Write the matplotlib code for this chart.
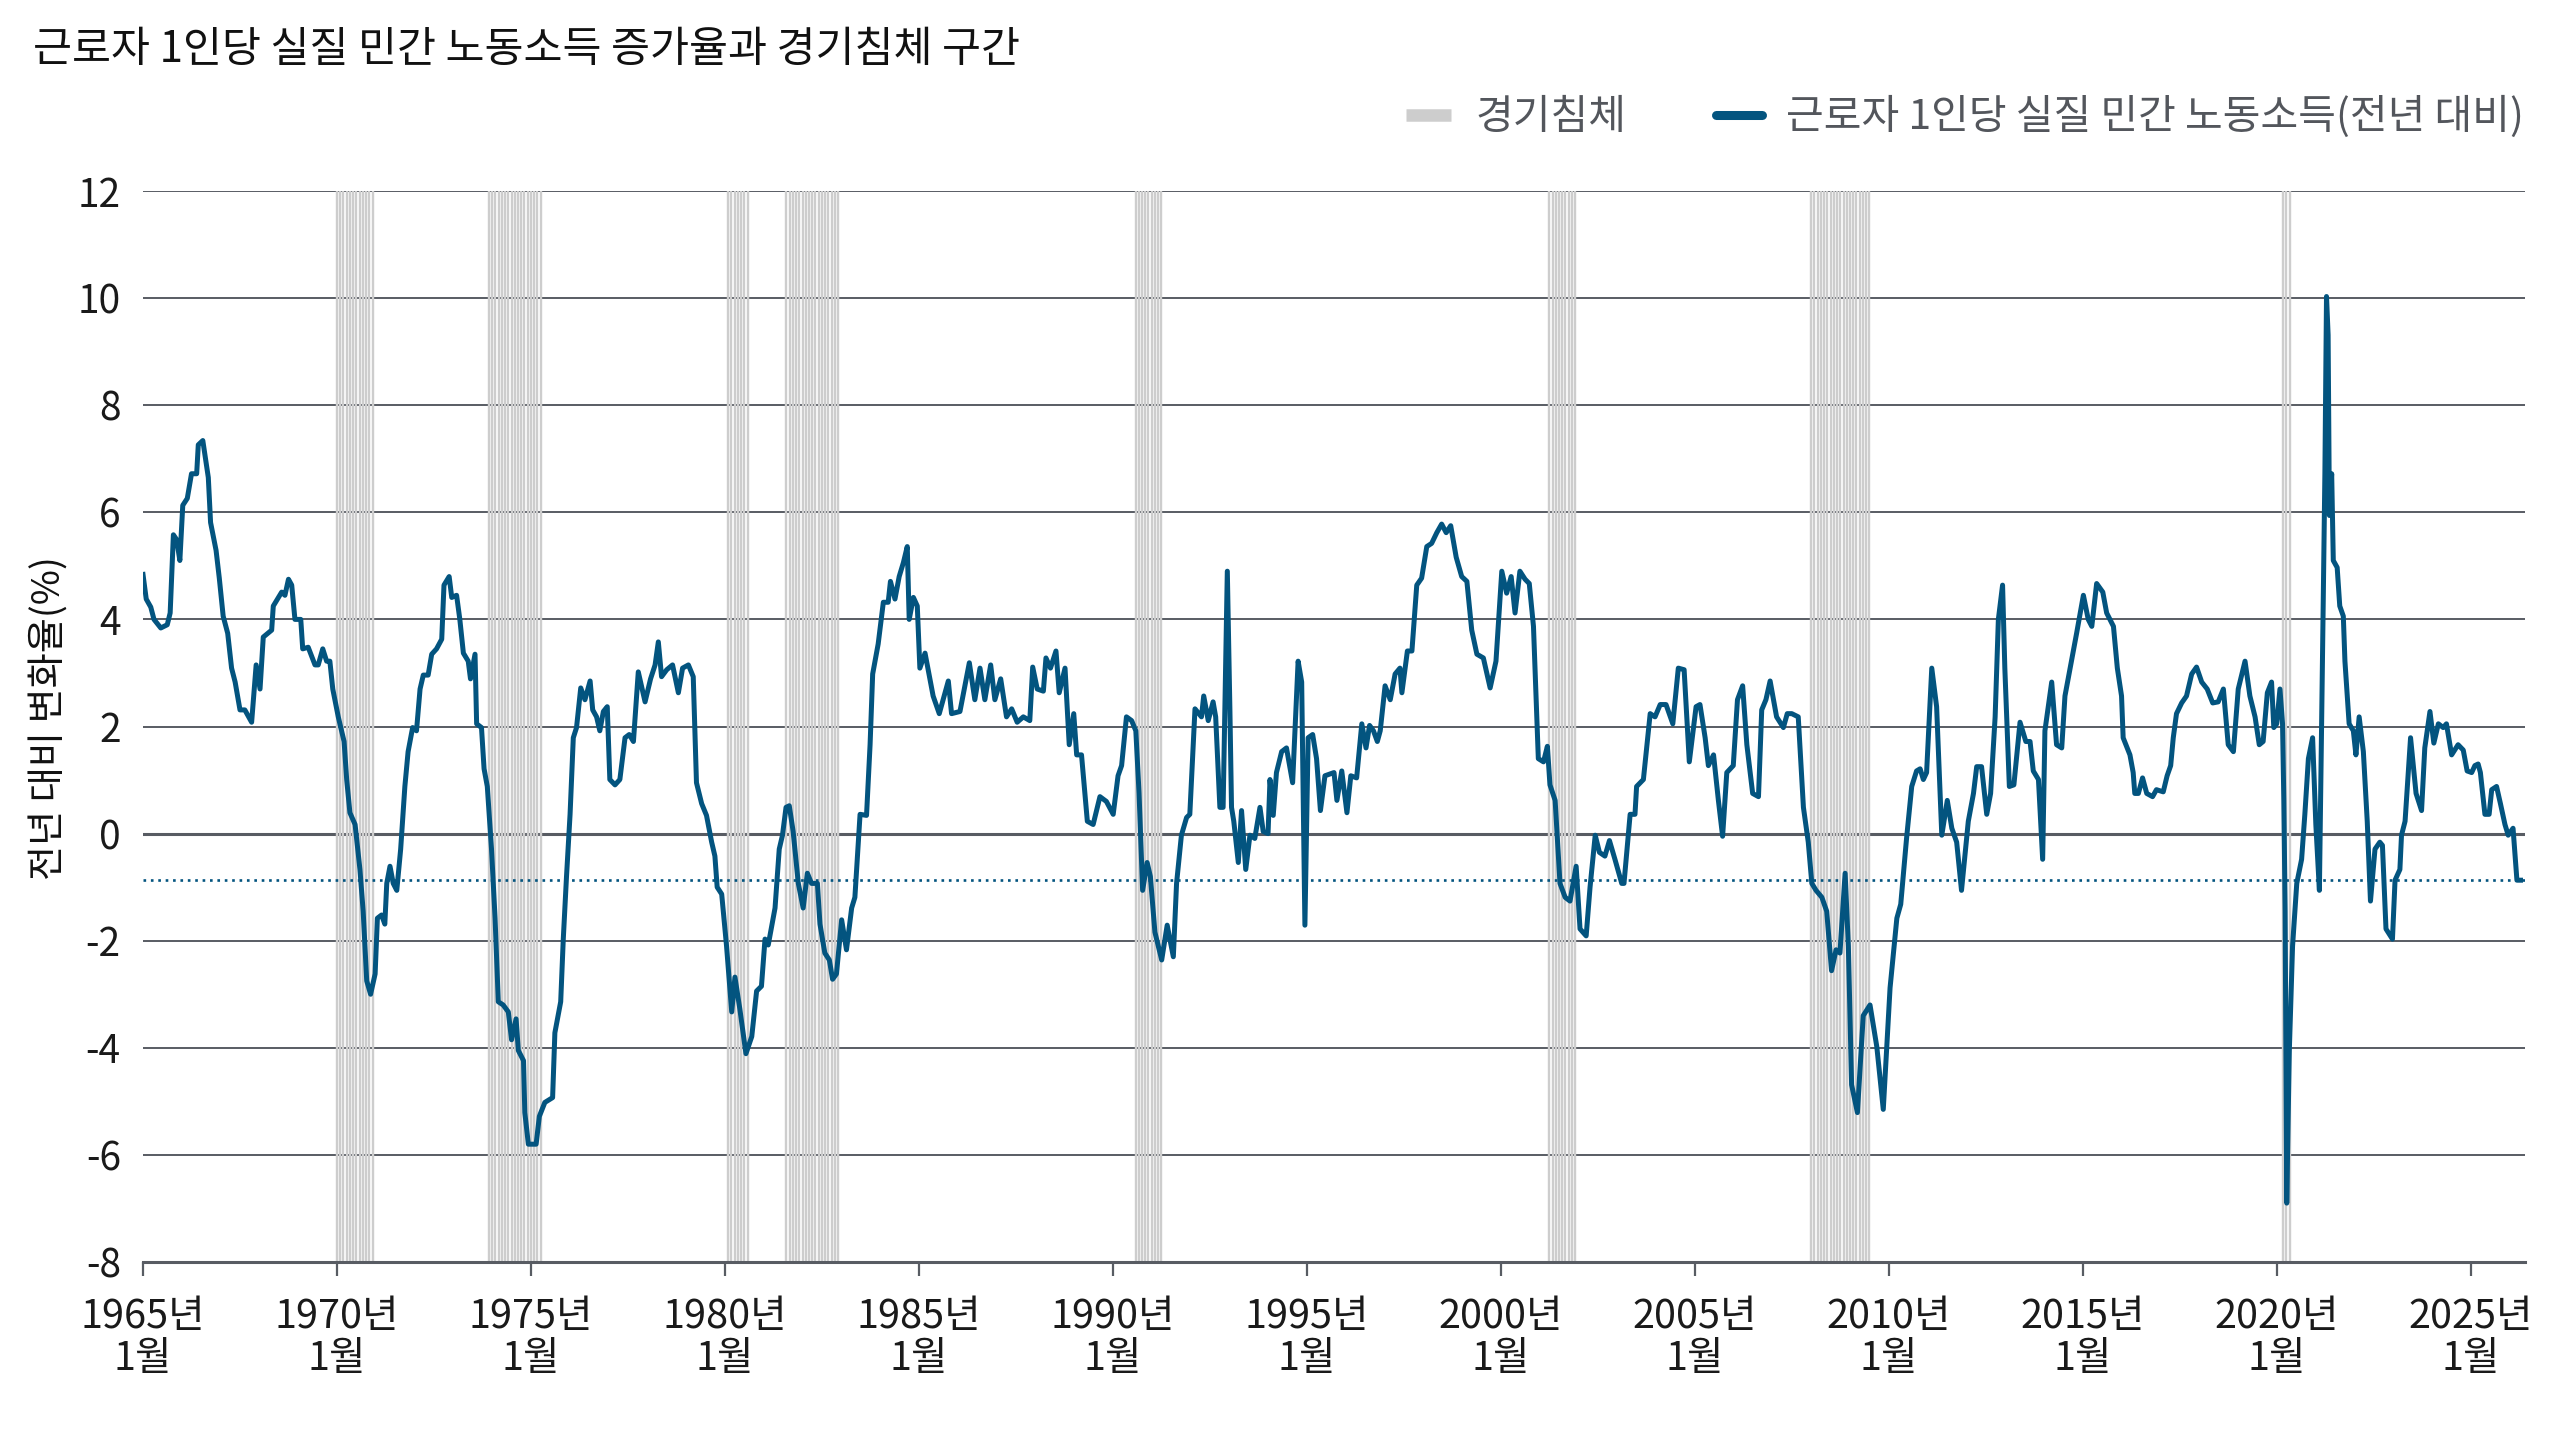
# 근로자 1인당 실질 민간 노동소득 증가율 (전년 대비) 과 경기침체 구간
import numpy as np
import matplotlib
matplotlib.use("Agg")
import matplotlib.pyplot as plt
from matplotlib.lines import Line2D

plt.rcParams['font.family'] = ['Noto Sans CJK KR', 'DejaVu Sans']

# (months since 1965-01, % yoy), one list per era
pts_1965_1974 = [
    (0, 4.84), (1, 4.38), (2.4, 4.23), (3.4, 4.0), (5.5, 3.84), (7.5, 3.9), (8.4, 4.12),
    (9.4, 5.58), (10.4, 5.49), (11.4, 5.1), (12.3, 6.13), (13.7, 6.26), (15, 6.72),
    (16.6, 6.72), (17.1, 7.26), (18.5, 7.34), (20.2, 6.65), (20.9, 5.81), (22.6, 5.29),
    (23.6, 4.77), (24.8, 4.06), (26.2, 3.74), (27.4, 3.09), (28.5, 2.83), (30, 2.31),
    (31.5, 2.31), (33.6, 2.08), (35, 3.15), (36.2, 2.7), (37.2, 3.67), (39.8, 3.8),
    (40.3, 4.25), (41.9, 4.41), (42.9, 4.51), (43.9, 4.45), (45, 4.75), (46, 4.64),
    (47, 4.0), (48.8, 4.0), (49.4, 3.45), (51.1, 3.48), (53.2, 3.15), (54.2, 3.15),
    (55.6, 3.45), (56.8, 3.22), (57.8, 3.22), (58.7, 2.7), (60.4, 2.18), (62.2, 1.72),
    (63, 1.01), (64, 0.39), (65.6, 0.17), (67.1, -0.67), (68.1, -1.45), (69.2, -2.75),
    (70.4, -3.0), (71.8, -2.62), (72.5, -1.58), (73.8, -1.52), (74.8, -1.69), (75.4, -0.93),
    (76.4, -0.61), (77.4, -0.93), (78.5, -1.06), (79.7, -0.29), (81, 0.88), (82, 1.53),
    (83.4, 1.98), (84.6, 1.92), (85.7, 2.7), (86.7, 2.96), (88.2, 2.96), (89.3, 3.35),
    (90.8, 3.45), (92.4, 3.63), (93.1, 4.64), (94.7, 4.8), (95.5, 4.41), (97, 4.45),
    (98, 4.0), (99.1, 3.37), (100.6, 3.22), (101.3, 2.89), (102.7, 3.35), (103.2, 2.05),
    (104.7, 1.98), (105.5, 1.21), (106.5, 0.88), (107.8, -0.29), (108.9, -1.58),
    (109.9, -3.14), (111.4, -3.2), (113, -3.33), (114, -3.85), (115.4, -3.46),
    (116.1, -4.05), (117.7, -4.24), (118.1, -5.21), (119.2, -5.8),
]

pts_1975_1984 = [
    (121.6, -5.8), (122.6, -5.28), (124.3, -5.02), (126.7, -4.93), (127.4, -3.72),
    (129.2, -3.14), (130, -1.97), (131, -0.8), (132.1, 0.36), (133.1, 1.79), (134.1, 1.98),
    (135.4, 2.72), (136.7, 2.5), (138.3, 2.85), (139.1, 2.31), (140.3, 2.18), (141.3, 1.92),
    (142.4, 2.28), (143.6, 2.37), (144.4, 1.01), (146, 0.91), (147.5, 1.01), (149.1, 1.79),
    (150.4, 1.85), (151.7, 1.72), (153.2, 3.02), (155.3, 2.46), (157, 2.89), (158.4, 3.15),
    (159.4, 3.58), (160.4, 2.93), (162, 3.06), (163.8, 3.15), (165.6, 2.63), (166.9, 3.09),
    (168.7, 3.15), (170.2, 2.93), (171.2, 0.95), (172.8, 0.56), (174.3, 0.34),
    (175.9, -0.16), (176.9, -0.42), (177.6, -1.0), (179, -1.13), (180.5, -2.1),
    (182.1, -3.33), (183.1, -2.68), (184.6, -3.27), (186.5, -4.11), (188.3, -3.79),
    (189.8, -2.94), (191.3, -2.85), (192.4, -1.97), (193.4, -2.08), (195.5, -1.39),
    (196.8, -0.29), (197.8, -0.03), (198.9, 0.49), (199.9, 0.52), (201.1, 0.04),
    (202.7, -0.93), (204.2, -1.39), (205.5, -0.74), (206.8, -0.93), (208.6, -0.93),
    (209.4, -1.69), (210.9, -2.23), (212.3, -2.36), (213.3, -2.72), (214.5, -2.62),
    (216.1, -1.61), (217.6, -2.17), (219.2, -1.39), (220.2, -1.19), (221.8, 0.36),
    (223.8, 0.34), (224.9, 1.66), (225.7, 2.98), (227.4, 3.54), (229, 4.32), (230.5, 4.32),
    (231.2, 4.71), (232.6, 4.38), (233.9, 4.8), (235.2, 5.06), (236.4, 5.36), (237, 4.0),
    (238.3, 4.41), (239.5, 4.25), (240.3, 3.09), (241.9, 3.37),
]

pts_1985_1995 = [
    (244.4, 2.57), (246.3, 2.24), (247.5, 2.5), (249.1, 2.85), (250.1, 2.24), (252.7, 2.28),
    (255.6, 3.19), (257.3, 2.5), (258.9, 3.09), (260.4, 2.5), (262.2, 3.15), (263.5, 2.5),
    (265.3, 2.89), (267.1, 2.18), (268.7, 2.33), (270.4, 2.08), (272.3, 2.18), (274.3, 2.11),
    (275.2, 3.11), (276.6, 2.7), (278.5, 2.66), (279.3, 3.28), (280.7, 3.09), (282.4, 3.41),
    (283.4, 2.63), (285.2, 3.09), (286.5, 1.66), (287.9, 2.24), (288.8, 1.47), (290.3, 1.47),
    (292.1, 0.23), (293.9, 0.17), (296, 0.69), (298, 0.6), (300.1, 0.36), (301.6, 1.08),
    (302.7, 1.27), (304.2, 2.18), (305.8, 2.11), (307.1, 1.92), (308.1, 0.75),
    (309.2, -1.06), (310.6, -0.54), (311.6, -0.8), (313, -1.84), (315.1, -2.36),
    (316.8, -1.71), (318.7, -2.3), (319.7, -0.93), (321.2, -0.03), (322.8, 0.3),
    (323.8, 0.36), (325.4, 2.33), (327.4, 2.18), (328.1, 2.57), (329.5, 2.11), (331, 2.46),
    (331.8, 2.18), (333.1, 0.49), (334.1, 0.49), (335.4, 4.9), (336.2, 2.31), (336.7, 0.49),
    (337.4, 0.23), (338.8, -0.54), (339.8, 0.43), (341.1, -0.67), (342.4, -0.03),
    (343.9, -0.09), (345.5, 0.49), (346.5, 0.04), (348, 0.0), (348.6, 1.01), (349.6, 0.34),
    (350.6, 1.14), (352.2, 1.53), (353.7, 1.6), (355.6, 0.95), (357.3, 3.22), (358.4, 2.83),
    (359.4, -1.71), (360.4, 1.79), (361.8, 1.85), (363, 1.4), (364.2, 0.43), (365.6, 1.08),
]

pts_1995_2005 = [
    (368.4, 1.14), (369.3, 0.62), (370.8, 1.17), (372.4, 0.39), (373.6, 1.08), (375.4, 1.04),
    (377, 2.05), (378.3, 1.6), (379.4, 2.02), (380.6, 1.92), (381.8, 1.72), (382.7, 1.92),
    (384.2, 2.76), (385.8, 2.5), (387.3, 2.98), (388.8, 3.09), (389.4, 2.63), (391.1, 3.41),
    (392.5, 3.41), (394, 4.64), (395.5, 4.77), (397.1, 5.36), (398.6, 5.42), (400.2, 5.62),
    (401.7, 5.78), (403.1, 5.62), (404.5, 5.75), (406.2, 5.16), (407.9, 4.8), (409.5, 4.71),
    (411, 3.8), (412.6, 3.35), (414.6, 3.28), (416.7, 2.72), (418.5, 3.22), (420.3, 4.9),
    (421.8, 4.49), (423.2, 4.8), (424.4, 4.12), (425.9, 4.9), (427.5, 4.75), (428.8, 4.67),
    (430.1, 3.87), (431.6, 1.4), (433.2, 1.34), (434.4, 1.63), (435.2, 0.91), (436.8, 0.62),
    (438.3, -0.93), (439.9, -1.19), (441.4, -1.26), (443.3, -0.61), (444.5, -1.78),
    (446.4, -1.91), (447.6, -1.0), (449.2, -0.03), (450.5, -0.35), (452.2, -0.42),
    (453.6, -0.13), (455.3, -0.48), (457.4, -0.93), (458.1, -0.93), (460, 0.36),
    (461.5, 0.36), (462, 0.88), (464.1, 1.01), (466.2, 2.24), (467.7, 2.18), (469.3, 2.41),
    (471.1, 2.41), (473.2, 2.05), (474.9, 3.09), (476.7, 3.06), (478.3, 1.34), (480.4, 2.37),
    (481.6, 2.41), (483.2, 1.79), (484.2, 1.27), (485.8, 1.47), (487.3, 0.62),
    (488.6, -0.05), (489.9, 1.14),
]

pts_2006_2016 = [
    (491.9, 1.27), (493.2, 2.5), (494.8, 2.76), (496.1, 1.66), (497.9, 0.75), (499.7, 0.69),
    (500.7, 2.31), (502, 2.5), (503.3, 2.85), (505.3, 2.18), (507.4, 1.98), (508.6, 2.24),
    (510, 2.24), (512, 2.18), (513.6, 0.49), (515.1, -0.16), (516.2, -0.93), (517.5, -1.06),
    (519.3, -1.19), (520.8, -1.45), (522.3, -2.56), (523.7, -2.17), (524.9, -2.23),
    (526.5, -0.74), (527.5, -2.1), (528.5, -4.69), (530.3, -5.21), (532.1, -3.4),
    (534.2, -3.2), (536.3, -3.98), (538.3, -5.15), (540.4, -2.88), (542.5, -1.58),
    (543.7, -1.32), (545.5, -0.09), (547.1, 0.88), (548.6, 1.17), (549.7, 1.21),
    (550.7, 1.01), (551.7, 1.14), (553.3, 3.09), (554.8, 2.37), (556.4, -0.03),
    (558.1, 0.62), (559.5, 0.1), (561, -0.16), (562.5, -1.06), (564.6, 0.23), (566.2, 0.75),
    (567.2, 1.25), (568.7, 1.25), (570.3, 0.36), (571.5, 0.75), (572.9, 2.18), (573.9, 4.0),
    (575.2, 4.64), (575.9, 3.09), (577.3, 0.88), (578.7, 0.91), (580.6, 2.08), (582.4, 1.72),
    (583.7, 1.72), (584.7, 1.17), (586.3, 1.01), (587.6, -0.48), (588.3, 1.92),
    (590.4, 2.83), (591.9, 1.66), (593.5, 1.6), (594.5, 2.57), (596.1, 3.09), (598.1, 3.74),
    (600.2, 4.45), (601.7, 4.0), (602.8, 3.87), (604.3, 4.67), (606.2, 4.51), (607.4, 4.12),
    (609.5, 3.87), (610.7, 3.09), (612, 2.57), (612.5, 1.79),
]

pts_2016_2026 = [
    (614.6, 1.47), (615.6, 1.14), (616.1, 0.75), (617.2, 0.75), (618.5, 1.04), (619.8, 0.75),
    (621.6, 0.69), (622.8, 0.82), (624.9, 0.78), (626.1, 1.08), (627.2, 1.27), (628, 1.79),
    (629, 2.24), (630.6, 2.44), (632.1, 2.57), (633.7, 2.98), (635.2, 3.11), (636.8, 2.83),
    (638.5, 2.7), (640.2, 2.44), (641.9, 2.46), (643.5, 2.7), (645, 1.66), (646.6, 1.53),
    (648.1, 2.7), (650.2, 3.22), (651.7, 2.57), (653.3, 2.18), (654.6, 1.66), (655.8, 1.72),
    (657.1, 2.63), (658.4, 2.83), (659.1, 1.98), (660, 2.05), (661, 2.7), (661.8, 2.05),
    (662.2, 0.62), (662.6, -1.45), (663.1, -6.9), (663.9, -4.05), (664.9, -2.1),
    (666.2, -0.93), (667.7, -0.48), (668.7, 0.36), (669.8, 1.4), (671.1, 1.79),
    (672.1, 0.17), (673.2, -1.06), (673.9, 2.05), (674.4, 4.38), (674.9, 6.72),
    (675.4, 10.03), (675.9, 9.31), (676.3, 5.94), (677, 6.72), (677.5, 5.1), (678.7, 4.97),
    (679.5, 4.25), (680.6, 4.06), (681.1, 3.22), (682.4, 2.05), (683.7, 1.92), (684.5, 1.47),
    (685.5, 2.18), (686.8, 1.53), (688, 0.23), (689, -1.26), (690.4, -0.29), (691.9, -0.16),
    (692.7, -0.22), (693.8, -1.78), (695.8, -1.97), (696.6, -0.87), (698.1, -0.67),
    (698.6, -0.03), (699.7, 0.23), (701.4, 1.79), (703.1, 0.75), (704.8, 0.43), (705.8, 1.6),
    (707.4, 2.28), (708.6, 1.69), (710, 2.05), (711.5, 1.98), (712.5, 2.05), (714.1, 1.47),
    (716.1, 1.66), (717.7, 1.56), (718.9, 1.17), (720.3, 1.14), (721.3, 1.27), (722.3, 1.3),
    (723, 1.14), (724.4, 0.36), (725.7, 0.36), (726.5, 0.82), (728, 0.88), (729.2, 0.56),
    (730.6, 0.17), (731.6, -0.03), (733.1, 0.1), (734.3, -0.87), (735.4, -0.87),
]

# recession shading, first and last shaded month
recessions = [
    ("1970-01", "1970-12"), ("1973-12", "1975-04"), ("1980-02", "1980-08"),
    ("1981-08", "1982-12"), ("1990-08", "1991-04"), ("2001-04", "2001-12"),
    ("2008-01", "2009-07"), ("2020-03", "2020-05"),
]

tick_years = list(range(1965, 2026, 5))
y_ticks = list(range(-8, 13, 2))

BLUE = '#03547f'
GRID = '#585c63'
BAND = '#cdcdcd'


def month_index(s):
    yr, mo = s.split('-')
    return (int(yr) - 1965) * 12 + int(mo) - 1


pts = pts_1965_1974 + pts_1975_1984 + pts_1985_1995 + pts_1995_2005 + pts_2006_2016 + pts_2016_2026
months = np.array([p[0] for p in pts])
growth = np.array([p[1] for p in pts])

rec_months = []
for start, end in recessions:
    rec_months.extend(range(month_index(start), month_index(end) + 1))

fig = plt.figure(figsize=(25.6, 14.4), dpi=100)
ax = fig.add_axes([0.05586, 0.12361, 0.93047, 0.74375])

ax.set_xlim(0, 736.8)
ax.set_ylim(-8, 12)

for s in ['top', 'right', 'left']:
    ax.spines[s].set_visible(False)
ax.spines['bottom'].set_color(GRID)
ax.spines['bottom'].set_linewidth(2.2)

# horizontal grid, the zero line a bit heavier
for v in y_ticks[1:]:
    ax.axhline(v, color=GRID, lw=2.2 if v == 0 else 1.4, zorder=1)

# each recession month as its own thin grey line
ax.vlines(rec_months, -8, 12, colors=BAND, lw=1.7, zorder=2)

# latest value as a dotted reference
ax.axhline(growth[-1], color=BLUE, lw=1.9, linestyle=(0, (1, 1.8)), zorder=3)

ax.plot(months, growth, color=BLUE, lw=3.6, zorder=4)

ax.set_xticks([(y - 1965) * 12 for y in tick_years])
ax.set_xticklabels([f"{y}년\n1월" for y in tick_years])
ax.tick_params(axis='x', length=10, width=1.6, color=GRID, pad=15, labelsize=28.5,
               labelcolor='#1a1a1a')
for lbl in ax.get_xticklabels():
    lbl.set_linespacing(1.08)

ax.set_yticks(y_ticks)
ax.set_yticklabels([str(v) for v in y_ticks])
ax.tick_params(axis='y', length=0, pad=16, labelsize=28, labelcolor='#1a1a1a')

fig.text(49 / 2560, 1 - 718 / 1440, '전년 대비 변화율(%)', rotation=90,
         ha='center', va='center', fontsize=27.5, color='#111111')

fig.text(33 / 2560, 1 - 50 / 1440, '근로자 1인당 실질 민간 노동소득 증가율과 경기침체 구간',
         ha='left', va='center', fontsize=30.5, color='#111111')

handles = [
    Line2D([], [], color=BAND, lw=9, solid_capstyle='butt'),
    Line2D([], [], color=BLUE, lw=6.5, solid_capstyle='round'),
]
labels = ['경기침체', '근로자 1인당 실질 민간 노동소득(전년 대비)']
fig.legend(handles, labels, loc='center right', bbox_to_anchor=(2524 / 2560, 1 - 117 / 1440),
           ncol=2, frameon=False, fontsize=29.5, handlelength=1.1, handletextpad=0.6,
           columnspacing=2.2, borderpad=0, borderaxespad=0, labelcolor='#53565c')

fig.savefig('out.png', dpi=100)
